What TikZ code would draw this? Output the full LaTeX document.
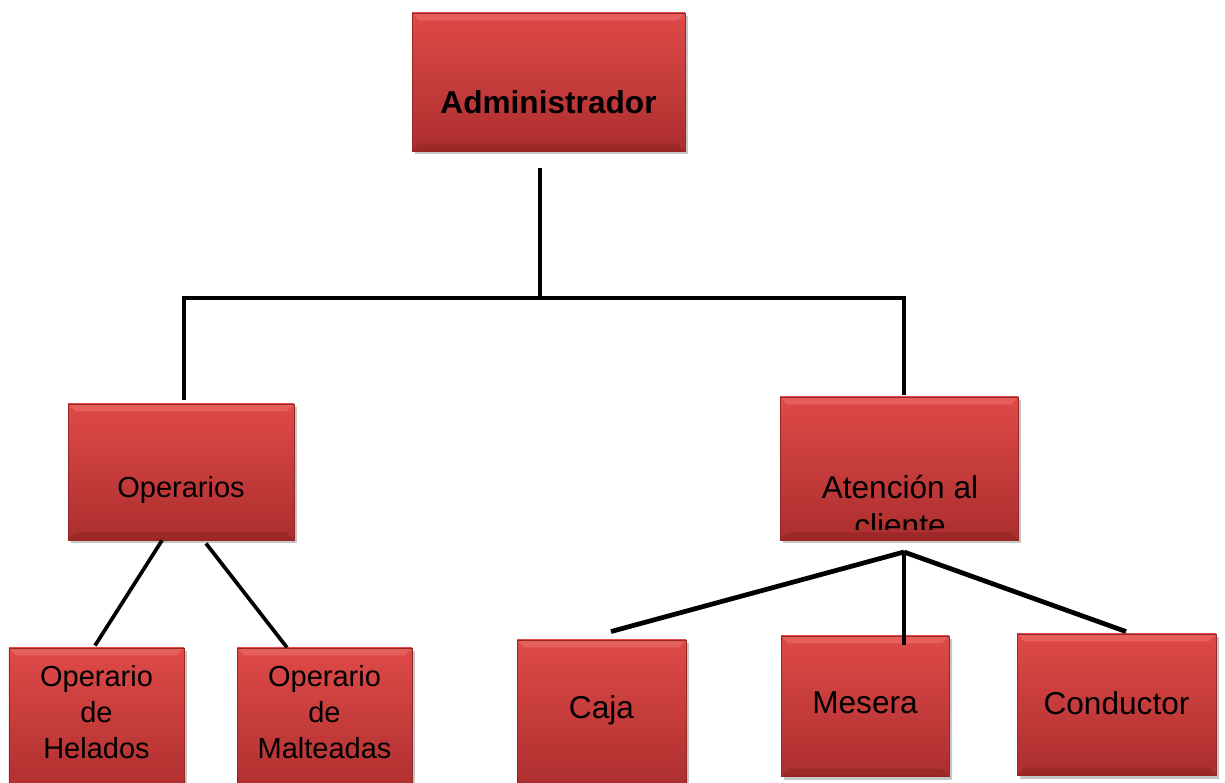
\documentclass[tikz,border=0pt]{standalone}
\usepackage{fontspec}
\setmainfont{Liberation Sans}
\usepackage{tikz}
\usetikzlibrary{shadows, calc}
\definecolor{boxtop}{RGB}{222,74,72}
\definecolor{boxbot}{RGB}{172,46,46}
\definecolor{boxedge}{RGB}{150,38,38}
\definecolor{boxlight}{RGB}{236,110,106}
\definecolor{boxdark}{RGB}{140,34,34}
\tikzset{
  box/.style={rectangle, draw=boxedge, line width=0.5pt,
    top color=boxtop, bottom color=boxbot,
    drop shadow={opacity=0.45, shadow xshift=0.06cm, shadow yshift=-0.07cm},
    path picture={
      \fill[boxlight, opacity=0.6] (path picture bounding box.north west)
        -- (path picture bounding box.north east)
        -- ([shift={(-0.15cm,-0.15cm)}]path picture bounding box.north east)
        -- ([shift={(0.15cm,-0.15cm)}]path picture bounding box.north west) -- cycle;
      \fill[boxdark, opacity=0.5] (path picture bounding box.south west)
        -- (path picture bounding box.south east)
        -- ([shift={(-0.15cm,0.15cm)}]path picture bounding box.south east)
        -- ([shift={(0.15cm,0.15cm)}]path picture bounding box.south west) -- cycle;
    }},
  boxtext/.style={align=center, text=black, inner sep=0pt},
  bigtext/.style={font=\fontsize{18}{21.5}\selectfont},
  midtext/.style={font=\fontsize{16.5}{20.5}\selectfont},
  conn/.style={line width=2.7pt, color=black},
  thinconn/.style={line width=2.1pt, color=black}
}
\begin{document}
\begin{tikzpicture}
  \useasboundingbox (0,0) rectangle (24.5,15.64);
  \clip (0,0) rectangle (24.5,15.64);

  % Boxes
  \node[box, minimum width=5.46cm, minimum height=2.76cm] (admin) at (10.97,14.0) {};
  \node[box, minimum width=4.52cm, minimum height=2.72cm] (operarios) at (3.62,6.2) {};
  \node[box, minimum width=4.76cm, minimum height=2.86cm] (atencion) at (17.98,6.27) {};
  \node[box, minimum width=3.5cm, minimum height=3.0cm] (helados) at (1.93,1.18) {};
  \node[box, minimum width=3.5cm, minimum height=3.0cm] (malteadas) at (6.49,1.18) {};
  \node[box, minimum width=3.38cm, minimum height=3.0cm] (caja) at (12.03,1.34) {};
  \node[box, minimum width=3.36cm, minimum height=2.8cm] (mesera) at (17.3,1.52) {};
  \node[box, minimum width=3.98cm, minimum height=2.82cm] (conductor) at (22.33,1.55) {};

  % Texts
  \node[boxtext, bigtext] (admin-t) at ([yshift=-0.4cm]admin.center) {\bfseries Administrador};
  \node[boxtext, midtext] (operarios-t) at ([yshift=-0.36cm]operarios.center) {Operarios};
  \begin{scope}
    \clip ([shift={(0.1cm,0.1cm)}]atencion.south west) ++(0,0.12) rectangle (atencion.north east);
    \node[boxtext, bigtext] (atencion-t) at ([xshift=0.02cm,yshift=-0.75cm]atencion.center) {Atención al\\cliente};
  \end{scope}
  \node[boxtext, midtext] (helados-t) at (1.93,1.4) {Operario\\de\\Helados};
  \node[boxtext, midtext] (malteadas-t) at (6.49,1.4) {Operario\\de\\Malteadas};
  \node[boxtext, bigtext] (caja-t) at (12.03,1.44) {Caja};
  \node[boxtext, bigtext] (mesera-t) at (17.3,1.58) {Mesera};
  \node[boxtext, bigtext] (conductor-t) at (22.33,1.58) {Conductor};

  % Connectors
  \coordinate (jtop) at (10.8,9.68);
  \coordinate (jatn) at (18.08,4.6);
  \draw[conn] ([xshift=-0.17cm,yshift=-0.34cm]admin.south) -- (jtop);
  \draw[conn] ([xshift=0.06cm,yshift=0.08cm]operarios.north) |- (jtop)
    -| ([xshift=0.1cm,yshift=0.04cm]atencion.north);
  \draw[thinconn] ([xshift=-0.38cm]operarios.south) -- ([xshift=-0.03cm,yshift=0.04cm]helados.north);
  \draw[thinconn] ([xshift=0.5cm,yshift=-0.06cm]operarios.south) -- ([xshift=-0.75cm]malteadas.north);
  \draw[conn] (jatn) -- ([xshift=0.19cm,yshift=0.16cm]caja.north);
  \draw[conn] (jatn) -- ([xshift=0.78cm,yshift=-0.18cm]mesera.north);
  \draw[conn] (jatn) -- ([xshift=0.19cm,yshift=0.04cm]conductor.north);
\end{tikzpicture}
\end{document}
